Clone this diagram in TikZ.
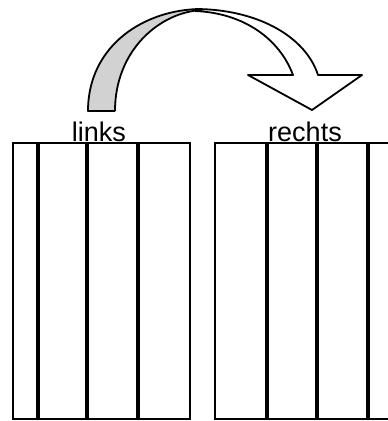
\documentclass[tikz,border=0pt]{standalone}
\usepackage{fontspec}
\setmainfont{Liberation Sans}
\usetikzlibrary{positioning, calc}
\tikzset{
  rim/.style={draw, line width=1.6pt},
  strip/.style={line width=3.6pt},
  lbl/.style={anchor=base, inner sep=0pt, font=\fontsize{27}{30}\selectfont},
  band/.style={draw, line width=1.8pt, line join=round},
}
\begin{document}
\begin{tikzpicture}[x=1pt, y=-1pt]
  \useasboundingbox (0,0) rectangle (388,421);
  \clip (0,0) rectangle (388,421);
  % the two panels
  \draw[rim] (13,143) rectangle (190,419);
  \draw[rim] (215,143) rectangle (400,419);
  \foreach \x in {38,87,138} \draw[strip] (\x,143) -- (\x,419);
  \foreach \x in {267,317,368} \draw[strip] (\x,143) -- (\x,419);
  \node[lbl] (links) at (99,141) {links};
  \node[lbl] (rechts) at (305,141) {rechts};
  % shaded rising part of the arrow
  \fill[gray!35] (88,111) .. controls (88,45) and (145,9) .. (202,9)
    .. controls (160,12) and (115,50) .. (115,111) -- cycle;
  \draw[band] (115,111) -- (88,111) .. controls (88,45) and (145,9) .. (202,9);
  \draw[band] (115,111) .. controls (115,50) and (160,12) .. (202,10);
  % falling part with head
  \draw[band] (195,9) .. controls (255,9) and (305,35) .. (318,75)
    -- (362,75) -- (312,110) -- (248,75) -- (293,75)
    .. controls (280,40) and (245,13) .. (195,11);
\end{tikzpicture}
\end{document}
